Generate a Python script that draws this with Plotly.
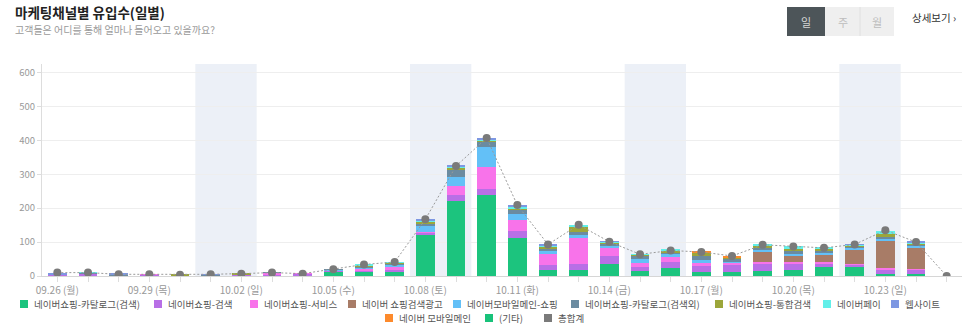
import plotly.graph_objects as go

# ---------------- data ----------------
dates = ["09.26", "09.27", "09.28", "09.29", "09.30", "10.01", "10.02", "10.03", "10.04", "10.05",
         "10.06", "10.07", "10.08", "10.09", "10.10", "10.11", "10.12", "10.13", "10.14", "10.15",
         "10.16", "10.17", "10.18", "10.19", "10.20", "10.21", "10.22", "10.23", "10.24", "10.25"]

label_dates = ["09.26", "09.29", "10.02", "10.05", "10.08", "10.11", "10.14", "10.17", "10.20", "10.23"]
label_texts = ["09.26 (월)", "09.29 (목)", "10.02 (일)", "10.05 (수)", "10.08 (토)",
               "10.11 (화)", "10.14 (금)", "10.17 (월)", "10.20 (목)", "10.23 (일)"]

weekend_starts = ["10.01", "10.08", "10.15", "10.22"]
weekend_ends = ["10.02", "10.09", "10.16", "10.23"]

series_names = ["네이버쇼핑-카탈로그(검색)", "네이버쇼핑-검색", "네이버쇼핑-서비스", "네이버 쇼핑검색광고",
                "네이버모바일메인-쇼핑", "네이버쇼핑-카탈로그(검색외)", "네이버쇼핑-통합검색", "네이버페이",
                "웹사이트", "네이버 모바일메인", "(기타)"]

catalog_search = [0, 0, 0, 0, 0, 0, 0, 0, 0, 12, 12, 13, 121, 222, 239, 111, 17, 18, 35, 14,
                  23, 11, 13, 15, 19, 27, 26, 6, 7, 0]
shop_search = [3, 7, 1, 4, 1, 2, 4, 5, 6, 3, 5, 5, 7, 16, 17, 22, 15, 17, 25, 13,
               17, 19, 22, 21, 19, 11, 7, 12, 13, 0]
shop_service = [0, 1, 0, 1, 0, 0, 1, 4, 1, 2, 4, 8, 3, 28, 66, 33, 34, 78, 24, 10,
                15, 9, 5, 4, 3, 3, 2, 6, 1, 0]
search_ad = [0, 0, 0, 0, 1, 0, 0, 0, 0, 0, 0, 0, 0, 0, 0, 0, 0, 0, 0, 0,
             0, 0, 0, 33, 18, 23, 43, 80, 62, 0]
mobile_main_shop = [0, 0, 0, 0, 0, 0, 0, 0, 0, 2, 5, 9, 15, 25, 58, 18, 7, 8, 5, 12,
                    9, 8, 4, 5, 5, 4, 6, 7, 6, 0]
catalog_other = [1, 1, 2, 0, 0, 1, 0, 1, 0, 1, 3, 3, 10, 24, 16, 11, 8, 10, 7, 10,
                 6, 12, 5, 7, 10, 5, 3, 5, 3, 0]
integrated = [0, 0, 1, 0, 2, 0, 2, 0, 0, 0, 1, 2, 5, 4, 3, 3, 5, 12, 4, 3,
              4, 10, 6, 4, 7, 8, 2, 7, 5, 0]
naverpay = [0, 1, 0, 0, 0, 0, 0, 0, 0, 0, 3, 1, 3, 5, 4, 5, 3, 7, 1, 2,
            3, 0, 0, 5, 6, 3, 3, 11, 2, 0]
website = [6, 0, 2, 0, 0, 2, 0, 0, 0, 0, 0, 0, 3, 1, 4, 6, 3, 0, 1, 0,
           0, 0, 0, 0, 0, 0, 2, 0, 2, 0]
mobile_main = [0, 0, 0, 0, 0, 0, 0, 0, 0, 0, 0, 0, 0, 0, 0, 0, 0, 0, 0, 0,
               0, 3, 4, 0, 0, 0, 0, 0, 0, 0]
etc = [0, 0, 0, 0, 0, 0, 0, 0, 0, 0, 0, 0, 0, 0, 0, 0, 0, 0, 0, 0,
       0, 0, 0, 0, 0, 0, 0, 0, 0, 0]
totals = [10, 10, 5, 5, 4, 5, 7, 10, 7, 20, 34, 41, 167, 324, 407, 209, 93, 151, 101, 64,
          75, 71, 59, 92, 87, 83, 93, 135, 100, 0]
total_name = "총합계"

series_values = [catalog_search, shop_search, shop_service, search_ad, mobile_main_shop,
                 catalog_other, integrated, naverpay, website, mobile_main, etc]
series_colors = ["#1cc47e", "#b86fe6", "#f873ea", "#a87c67", "#63c0f7",
                 "#6b8ba0", "#9ca63a", "#62efe9", "#7d97e2", "#fd8a2c", "#18c27a"]
total_color = "#7a7a7a"

FONT = "Noto Sans CJK KR, Noto Sans, sans-serif"

# ---------------- layout geometry (pixels) ----------------
W, H = 966, 333
ML, MR, MT, MB = 42, 4, 64, 57
PW, PH = W - ML - MR, H - MT - MB


def px(x):
    return (x - ML) / PW


def py(y):
    return (H - MB - y) / PH


fig = go.Figure()

for name, vals, col in zip(series_names, series_values, series_colors):
    fig.add_trace(go.Bar(x=dates, y=vals, name=name, marker=dict(color=col, line=dict(width=0)),
                         showlegend=False))

fig.add_trace(go.Scatter(x=dates, y=totals, name=total_name, mode="lines+markers",
                         line=dict(color="#9a9a9a", width=1, dash="2px,2px"),
                         marker=dict(color=total_color, size=8), showlegend=False))

shapes = []
# weekend bands
for s, e in zip(weekend_starts, weekend_ends):
    shapes.append(dict(type="rect", xref="x", yref="paper", x0=dates.index(s) - 0.5,
                       x1=dates.index(e) + 0.5, y0=0, y1=1, fillcolor="#ecf0f7",
                       line=dict(width=0), layer="below"))

# top-right buttons
btns = [("일", 787, 825, "#4d5559", "#d6d6d6"), ("주", 825, 860, "#efefef", "#bdbdbd"),
        ("월", 860, 894, "#efefef", "#bdbdbd")]
annotations = []
for t, x0, x1, bg, fg in btns:
    shapes.append(dict(type="rect", xref="paper", yref="paper", x0=px(x0), x1=px(x1),
                       y0=py(36), y1=py(7), fillcolor=bg, line=dict(width=0)))
    annotations.append(dict(text=t, xref="paper", yref="paper", x=px((x0 + x1) / 2), y=py(21.5),
                            xanchor="center", yanchor="middle", showarrow=False,
                            font=dict(family=FONT, size=11, color=fg)))
shapes.append(dict(type="line", xref="paper", yref="paper", x0=px(860), x1=px(860),
                   y0=py(36), y1=py(7), line=dict(color="#e0e0e0", width=1)))
annotations.append(dict(text="상세보기 ›", xref="paper", yref="paper", x=px(910), y=py(17),
                        xanchor="left", yanchor="middle", showarrow=False,
                        font=dict(family=FONT, size=10.5, color="#333")))

# title
annotations.append(dict(text="<b>마케팅채널별 유입수(일별)</b>", xref="paper", yref="paper",
                        x=px(13), y=py(12), xanchor="left", yanchor="middle", showarrow=False,
                        font=dict(family=FONT, size=13.5, color="#222")))
annotations.append(dict(text="고객들은 어디를 통해 얼마나 들어오고 있을까요?", xref="paper", yref="paper",
                        x=px(13), y=py(29), xanchor="left", yanchor="middle", showarrow=False,
                        font=dict(family=FONT, size=10, color="#9a9a9a")))

# custom legend
legend_names = series_names + [total_name]
legend_colors = series_colors + [total_color]
legend_sq_x = [20, 154, 250, 348, 453, 571, 715, 823, 891, 385, 485, 544]
legend_row_y = [304] * 9 + [318] * 3
for nm, col, sx, sy in zip(legend_names, legend_colors, legend_sq_x, legend_row_y):
    shapes.append(dict(type="rect", xref="paper", yref="paper", x0=px(sx), x1=px(sx + 8),
                       y0=py(sy + 4), y1=py(sy - 4), fillcolor=col, line=dict(width=0)))
    annotations.append(dict(text=nm, xref="paper", yref="paper", x=px(sx + 12), y=py(sy),
                            xanchor="left", yanchor="middle", showarrow=False,
                            font=dict(family=FONT, size=9.5, color="#555")))

fig.update_layout(
    width=W, height=H,
    margin=dict(l=ML, r=MR, t=MT, b=MB),
    paper_bgcolor="white", plot_bgcolor="white",
    barmode="stack", bargap=0.4,
    font=dict(family=FONT, size=10, color="#999"),
    shapes=shapes, annotations=annotations,
    showlegend=False,
    xaxis=dict(type="category", categoryorder="array", categoryarray=dates,
               range=[-0.5, len(dates) - 0.5],
               tickmode="array", tickvals=dates,
               ticktext=[label_texts[label_dates.index(d)] if d in label_dates else "" for d in dates],
               ticks="outside", ticklen=5, tickcolor="#dddddd",
               showline=True, linecolor="#d6d6d6", showgrid=False, zeroline=False,
               tickfont=dict(family=FONT, size=10, color="#999")),
    yaxis=dict(range=[0, 625], tickmode="array", tickvals=[0, 100, 200, 300, 400, 500, 600],
               ticks="outside", ticklen=4, tickcolor="#dddddd",
               showline=True, linecolor="#dddddd", gridcolor="#eeeeee", zeroline=False,
               tickfont=dict(family=FONT, size=9.5, color="#999")),
)

fig.write_html("out.html")
